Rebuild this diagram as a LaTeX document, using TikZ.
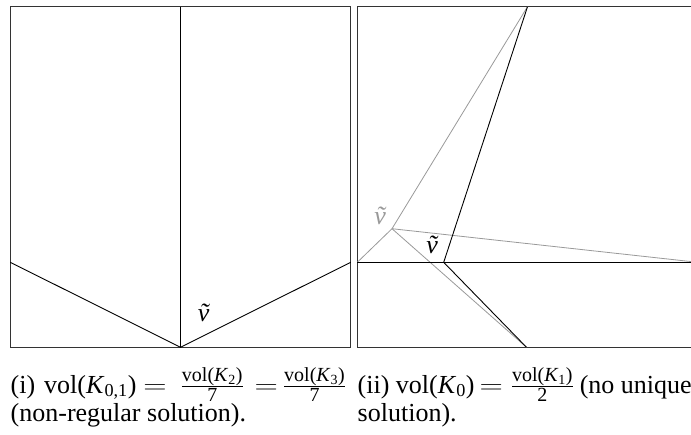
\documentclass[tikz,border=0pt]{standalone}
\usepackage{amsmath}
\usepackage{graphicx}
\usepackage{fontspec}
\setmainfont{Liberation Serif}
\newcommand{\Kx}[1]{\textit{K}$_{\text{#1}}$}
\newcommand{\eqt}{\scalebox{1.3}[1]{$=$}}
\newcommand{\frw}[2]{$\frac{\text{\fontsize{20}{20}\selectfont #1}}{\text{\fontsize{20}{20}\selectfont #2}}$}
\begin{document}
\begin{tikzpicture}[x=1pt,y=-1pt,
  frame/.style={draw=black!80,line width=1.3pt},
  blk/.style={draw=black,line width=0.9pt},
  gry/.style={draw=black!40,line width=0.8pt},
  lab/.style={inner sep=0pt,font=\fontsize{26}{32}\selectfont},
  captext/.style={inner sep=0pt,anchor=base west,font=\fontsize{26}{32}\selectfont}]
\useasboundingbox (0,0) rectangle (691,434);
\clip (0,0) rectangle (691,434);
% left panel
\coordinate (la) at (10.3,6.7);
\coordinate (lb) at (350.7,347.3);
\coordinate (lt) at (10.3,262.3);
\coordinate (rt) at (350.7,262.3);
\coordinate (tm) at (180.5,6.7);
\coordinate (bm) at (180.5,347.3);
\draw[frame] (la) rectangle (lb);
\draw[blk] (tm) -- (bm);
\draw[blk] (lt) -- (bm) -- (rt);
\node[lab] (v1) at (204,313) {\textit{\~{v}}};
% right panel
\coordinate (ra) at (357.3,6.7);
\coordinate (rb) at (697.7,347.3);
\coordinate (L) at (357.3,262.3);
\coordinate (R) at (697.7,262.3);
\coordinate (T) at (527.5,6.7);
\coordinate (K) at (443.7,262.3);
\coordinate (B) at (526.5,347.3);
\coordinate (G) at (392,228.7);
\draw[frame] (ra) rectangle (rb);
\draw[gry] (L) -- (G) -- (T);
\draw[gry] (G) -- (R);
\draw[gry] (G) -- (B);
\draw[blk] (L) -- (R);
\draw[blk] (T) -- (K) -- (B);
\node[lab,text=black!40] (v2) at (380.5,216) {\textit{\~{v}}};
\node[lab] (v3) at (432.5,245) {\textit{\~{v}}};
% captions
\node[captext] (c1) at (10.5,393) {(i)\hspace{9pt}vol(\Kx{0,1})\hspace{7pt}\eqt\hspace{14pt}\frw{vol(\Kx{2})}{7}\hspace{11pt}\eqt\hspace{5pt}\frw{vol(\Kx{3})}{7}};
\node[captext] (c2) at (10.5,421) {(non-regular solution).};
\node[captext] (c3) at (357.5,393) {(ii) vol(\Kx{0})\hspace{5pt}\eqt\hspace{8pt}\frw{vol(\Kx{1})}{2}\hspace{6pt}(no unique};
\node[captext] (c4) at (357.5,421) {solution).};
\end{tikzpicture}
\end{document}
